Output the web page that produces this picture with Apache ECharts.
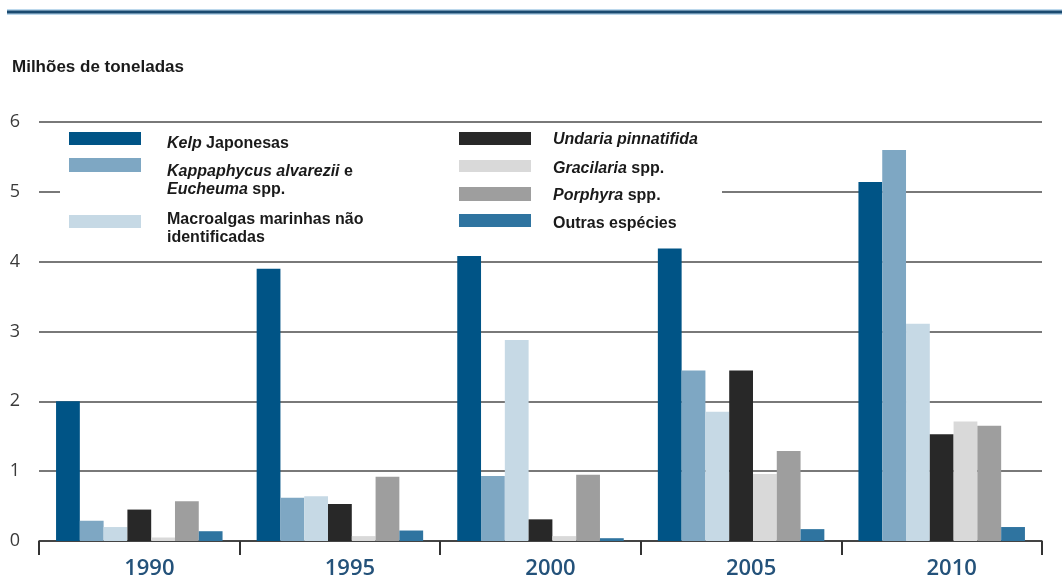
<!DOCTYPE html>
<html><head><meta charset="utf-8">
<script src="https://cdn.jsdelivr.net/npm/echarts@6/dist/echarts.min.js"></script>
<style>html,body{margin:0;padding:0;background:#fff}#c{width:1062px;height:581px}</style>
</head><body><div id="c"></div>
<script>
// ---- data ----
const years = ['1990', '1995', '2000', '2005', '2010'];
const kelp        = [2.00, 3.90, 4.08, 4.19, 5.14];
const kappaphycus = [0.29, 0.62, 0.93, 2.44, 5.60];
const macroalgas  = [0.20, 0.64, 2.88, 1.85, 3.11];
const undaria     = [0.45, 0.53, 0.31, 2.44, 1.53];
const gracilaria  = [0.05, 0.07, 0.07, 0.96, 1.71];
const porphyra    = [0.57, 0.92, 0.95, 1.29, 1.65];
const outras      = [0.14, 0.15, 0.04, 0.17, 0.20];
const yMin = 0, yMax = 6, yStep = 1;

const seriesNames = ['Kelp Japonesas', 'Kappaphycus alvarezii e Eucheuma spp.',
  'Macroalgas marinhas não identificadas', 'Undaria pinnatifida', 'Gracilaria spp.',
  'Porphyra spp.', 'Outras espécies'];
const legendTexts = ['{i|Kelp} Japonesas', '{i|Kappaphycus alvarezii} e\n{i|Eucheuma} spp.',
  'Macroalgas marinhas não\nidentificadas', '{i|Undaria pinnatifida}', '{i|Gracilaria} spp.',
  '{i|Porphyra} spp.', 'Outras espécies'];
const seriesValues = [kelp, kappaphycus, macroalgas, undaria, gracilaria, porphyra, outras];
const colors = ['#005486', '#7ea7c3', '#c6d9e5', '#282828', '#d9d9d9', '#9e9e9e', '#2f74a0'];

// ---- layout (legend swatch placement) ----
const legendLayout = [
  {sx: 69, sy: 132, sh: 13, tx: 167, ty: 135},
  {sx: 69, sy: 158, sh: 14, tx: 167, ty: 163},
  {sx: 69, sy: 215, sh: 13, tx: 167, ty: 211},
  {sx: 459, sy: 132, sh: 13, tx: 553, ty: 131},
  {sx: 459, sy: 160, sh: 12, tx: 553, ty: 160},
  {sx: 459, sy: 187, sh: 14, tx: 553, ty: 187},
  {sx: 459, sy: 214, sh: 13, tx: 553, ty: 215}
];

const FONT = '"Liberation Sans", Arial, sans-serif';
const graphics = [
  {type: 'rect', shape: {x: 7, y: 9, width: 1055, height: 6}, style: {fill: '#bcd8ec'}, z: 1},
  {type: 'rect', shape: {x: 7, y: 10.5, width: 1055, height: 3}, style: {fill: '#1a4a70'}, z: 2},
  {type: 'rect', shape: {x: 60, y: 125, width: 662, height: 120}, style: {fill: '#ffffff'}, z: 1}
];
legendLayout.forEach((L, i) => {
  graphics.push({type: 'rect', z: 3, shape: {x: L.sx, y: L.sy, width: 72, height: L.sh}, style: {fill: colors[i]}});
  graphics.push({type: 'text', z: 3, x: L.tx, y: L.ty, style: {
    text: legendTexts[i], fill: '#1a1a1a', fontSize: 16, fontWeight: 'bold', fontFamily: FONT,
    lineHeight: 18, verticalAlign: 'top', align: 'left',
    rich: {i: {fontStyle: 'italic', fontWeight: 'bold', fontSize: 16, fontFamily: FONT, fill: '#1a1a1a', lineHeight: 18}}
  }});
});

const chart = echarts.init(document.getElementById('c'), null, {renderer: 'canvas'});
chart.setOption({
  backgroundColor: '#ffffff',
  animation: false,
  title: {
    text: 'Milhões de toneladas', left: 12, top: 59, padding: 0,
    textStyle: {fontSize: 17, fontWeight: 'bold', color: '#1a1a1a', fontFamily: FONT}
  },
  grid: {left: 39, right: 20, top: 122, bottom: 40, containLabel: false},
  xAxis: {
    type: 'category', data: years, boundaryGap: true,
    axisLine: {lineStyle: {color: '#333', width: 1.5}},
    axisTick: {show: true, interval: 0, length: 14, lineStyle: {color: '#333', width: 2}},
    axisLabel: {margin: 17, fontSize: 22, fontWeight: 600, color: '#24527a',
      fontFamily: '"Open Sans", sans-serif', padding: [0, 0, 0, 20]},
    splitLine: {show: false}
  },
  yAxis: {
    type: 'value', min: yMin, max: yMax, interval: yStep,
    axisLine: {show: false}, axisTick: {show: false},
    axisLabel: {margin: 19, fontSize: 18, color: '#3a3a3a', fontFamily: '"Open Sans", sans-serif'},
    splitLine: {lineStyle: {color: '#4d4d4d', width: 1.5}}
  },
  graphic: graphics,
  series: seriesValues.map((vals, i) => ({
    name: seriesNames[i], type: 'bar', data: vals,
    barGap: '0%', barCategoryGap: '17%',
    itemStyle: {color: colors[i]}
  }))
});
</script></body></html>
